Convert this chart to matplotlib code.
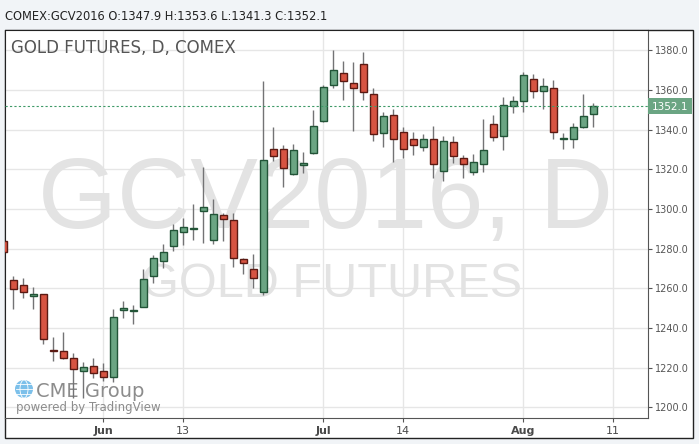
import matplotlib
matplotlib.use('Agg')
import matplotlib.pyplot as plt
from matplotlib.patches import Rectangle, Ellipse

# canvas size in pixels
W, H = 699, 444

# candle data, bar index -1 .. 58 (bar 9 = Jun 1, 31 = Jul 1, 51 = Aug 1)
bars = list(range(-1, 59))
opens = [1283.8, 1264.0, 1261.5, 1256.0, 1257.0, 1229.0, 1228.2, 1224.7, 1218.1, 1220.6,
         1218.1, 1215.4, 1249.0, 1248.5, 1250.7, 1266.3, 1273.9, 1281.2, 1288.2, 1289.8,
         1298.8, 1284.5, 1296.8, 1294.3, 1274.6, 1269.6, 1258.3, 1330.1, 1330.1, 1317.5,
         1322.0, 1328.1, 1344.2, 1362.4, 1368.4, 1363.4, 1372.9, 1357.8, 1338.1, 1347.2,
         1338.6, 1335.1, 1331.1, 1335.1, 1319.0, 1333.6, 1325.5, 1318.5, 1322.5, 1342.7,
         1336.9, 1351.8, 1354.3, 1365.4, 1359.3, 1360.8, 1335.5, 1335.1, 1341.2, 1347.9]
highs = [1285.0, 1266.2, 1265.2, 1260.5, 1257.3, 1235.3, 1238.0, 1227.2, 1222.8, 1224.8,
         1222.3, 1249.5, 1253.6, 1251.6, 1269.7, 1276.8, 1282.3, 1292.4, 1295.4, 1302.5,
         1321.0, 1305.0, 1298.0, 1297.8, 1275.1, 1277.3, 1364.5, 1341.3, 1332.2, 1332.7,
         1328.9, 1349.9, 1362.5, 1380.2, 1374.6, 1374.0, 1379.1, 1360.8, 1348.9, 1350.4,
         1341.2, 1338.6, 1337.8, 1341.8, 1336.6, 1336.6, 1327.2, 1327.6, 1345.2, 1347.2,
         1356.5, 1357.0, 1368.9, 1367.9, 1365.9, 1364.9, 1338.1, 1343.3, 1358.0, 1353.6]
lows = [1277.0, 1249.7, 1255.2, 1249.7, 1232.0, 1223.5, 1224.2, 1204.7, 1204.7, 1214.6,
        1213.5, 1212.9, 1245.2, 1241.8, 1250.4, 1262.8, 1270.4, 1278.8, 1281.8, 1284.5,
        1283.0, 1282.2, 1283.8, 1270.6, 1267.2, 1260.3, 1256.6, 1324.3, 1311.2, 1317.3,
        1318.3, 1327.8, 1344.0, 1361.1, 1354.9, 1339.5, 1354.9, 1334.3, 1331.4, 1323.8,
        1325.8, 1327.2, 1329.4, 1315.8, 1314.2, 1323.0, 1315.5, 1317.3, 1318.8, 1334.4,
        1329.9, 1348.5, 1349.0, 1355.8, 1350.2, 1335.1, 1330.1, 1330.9, 1341.0, 1341.3]
closes = [1278.4, 1259.5, 1258.0, 1257.0, 1234.3, 1228.4, 1224.7, 1219.1, 1220.3, 1217.1,
          1215.2, 1245.4, 1250.0, 1249.2, 1264.5, 1275.1, 1278.1, 1289.2, 1290.7, 1290.6,
          1300.8, 1297.3, 1294.8, 1275.1, 1272.6, 1265.3, 1324.5, 1326.8, 1320.5, 1329.6,
          1323.0, 1341.7, 1361.3, 1369.9, 1364.7, 1360.8, 1359.1, 1337.9, 1346.7, 1335.1,
          1330.1, 1332.1, 1335.1, 1322.5, 1334.1, 1326.5, 1322.5, 1323.5, 1329.6, 1336.1,
          1352.3, 1354.3, 1367.4, 1359.3, 1361.8, 1338.8, 1335.7, 1341.2, 1346.7, 1352.1]

tick_pos = [9, 17, 31, 39, 51, 60]
tick_labels = ['Jun', '13', 'Jul', '14', 'Aug', '11']
price_ticks = list(range(1200, 1381, 20))
last_price = 1352.1

up_fill, up_edge = '#6ba583', '#225437'
dn_fill, dn_edge = '#d75442', '#5b1a13'


def fx(x):
    return x / W


def fy(y):
    return 1 - y / H


fig = plt.figure(figsize=(W / 100, H / 100), dpi=100)
fig.patch.set_facecolor('#f1f4f7')

# outer chart frame (plot + price scale + time scale)
fig.add_artist(Rectangle((fx(5), fy(438)), fx(688), 408 / H, transform=fig.transFigure,
                         facecolor='white', edgecolor='#222222', lw=1, zorder=0))

ax = fig.add_axes([fx(5), fy(418), fx(643), 388 / H])
ax.set_facecolor('white')

# wicks and bodies
ax.vlines(bars, lows, highs, color='#737375', lw=1, zorder=3)
bottoms = [min(o, c) for o, c in zip(opens, closes)]
heights = [max(abs(c - o), 0.4) for o, c in zip(opens, closes)]
fills = [up_fill if c >= o else dn_fill for o, c in zip(opens, closes)]
edges = [up_edge if c >= o else dn_edge for o, c in zip(opens, closes)]
ax.bar(bars, heights, bottom=bottoms, width=0.7, color=fills, edgecolor=edges,
       lw=1, zorder=4)

ax.axhline(last_price, color='#3f9a68', ls=(0, (2, 2)), lw=0.8, zorder=5)

ax.set_xlim(-0.83, 63.47)
ax.set_ylim(1194.6, 1390.2)

ax.set_yticks(price_ticks)
ax.set_yticklabels(['%.1f' % v for v in price_ticks])
ax.yaxis.tick_right()
ax.set_xticks(tick_pos)
ax.set_xticklabels(tick_labels)
for lbl in ax.get_xticklabels():
    if not lbl.get_text().isdigit():
        lbl.set_fontweight('bold')
ax.tick_params(axis='y', length=3, color='#555555', labelcolor='#555555', labelsize=7, pad=2)
ax.tick_params(axis='x', length=3, color='#555555', labelcolor='#4a4a4a', labelsize=8, pad=3)
ax.grid(True, color='#e6e6e6', lw=1)
ax.set_axisbelow(True)

for side in ['left', 'top']:
    ax.spines[side].set_color('#222222')
for side in ['right', 'bottom']:
    ax.spines[side].set_color('#555555')


def axp(x, y):
    return (x - 5) / 643, (418 - y) / 388


# watermarks
ax.text(*axp(326, 228), 'GCV2016, D', family='Liberation Sans', fontsize=73,
        color='#e3e3e3', ha='center', va='baseline', transform=ax.transAxes, zorder=1)
ax.text(*axp(332, 297), 'GOLD FUTURES', family='Liberation Sans', fontsize=35,
        color='#e3e3e3', ha='center', va='baseline', transform=ax.transAxes, zorder=1)

ax.text(*axp(11, 53), 'GOLD FUTURES, D, COMEX', fontsize=12, color='#555555',
        va='baseline', transform=ax.transAxes, zorder=6)

# CME Group / TradingView logo
ax.add_patch(Ellipse(axp(24, 389), 18 / 643, 18 / 388, transform=ax.transAxes,
                     facecolor='#7cc0ea', edgecolor='none', zorder=2))
ax.add_patch(Ellipse(axp(24, 389), 8 / 643, 18 / 388, transform=ax.transAxes,
                     facecolor='none', edgecolor='white', lw=0.6, zorder=2))
for yy in [384, 389, 394]:
    ax.plot([axp(16, yy)[0], axp(32, yy)[0]], [axp(16, yy)[1]] * 2, color='white',
            lw=0.6, transform=ax.transAxes, zorder=2)
ax.text(*axp(36, 397), 'CME Group', fontsize=14, color='#8c8c8c', va='baseline',
        transform=ax.transAxes, zorder=2)
ax.text(*axp(16, 411), 'powered by TradingView', fontsize=8.5, color='#8c8c8c',
        va='baseline', transform=ax.transAxes, zorder=2)

# last price tag on the price scale
fig.add_artist(Rectangle((fx(648), fy(114)), fx(44), 16 / H, transform=fig.transFigure,
                         facecolor='#6ba583', edgecolor='none', zorder=5))
fig.text(fx(670), fy(106.5), '%.1f' % last_price, color='white', fontsize=7.5,
         ha='center', va='center', zorder=6)

fig.text(fx(5), fy(20), 'COMEX:GCV2016 O:1347.9 H:1353.6 L:1341.3 C:1352.1',
         fontsize=8.3, color='#222222', va='baseline')

fig.savefig('out.png', dpi=100)
